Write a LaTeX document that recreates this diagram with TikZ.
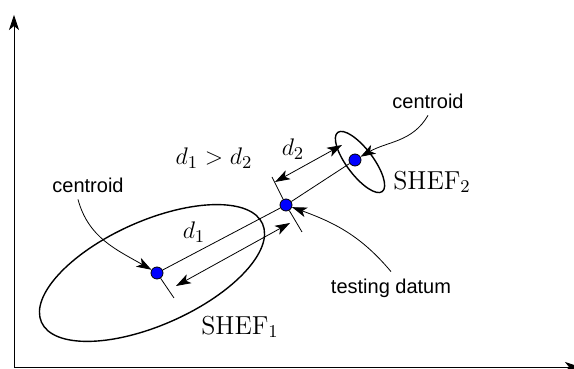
\documentclass[tikz,border=0pt]{standalone}
\usepackage{fontspec}
\newfontfamily\labelfont{Liberation Sans}
\usetikzlibrary{arrows.meta,positioning}

\begin{document}
\begin{tikzpicture}[x=0.5pt,y=0.5pt,
  dot/.style={circle,draw,fill=blue,inner sep=0pt,minimum size=6pt},
  tag/.style={font=\labelfont\fontsize{10}{12}\selectfont},
  mlabel/.style={font=\fontsize{13}{15}\selectfont},
  dim/.style={{Stealth[length=7.5pt,width=5pt,inset=2pt]}-{Stealth[length=7.5pt,width=5pt,inset=2pt]}},
  pointer/.style={-{Stealth[length=7.5pt,width=5pt,inset=2pt]}}]

\useasboundingbox (0,0) rectangle (574,369);

% axes
\coordinate (o) at (14,2);
\coordinate (ytop) at (14,354);
\coordinate (xend) at (580,2);
\draw[pointer] (o) -- (ytop);
\draw[pointer] (o) -- (xend);

% the two clusters
\draw[line width=0.7pt] (152,96) circle [x radius=60.5pt, y radius=26pt, rotate=24];
\draw[line width=0.7pt] (360,207) circle [x radius=18.5pt, y radius=6.6pt, rotate=-53];

\node[dot] (c1) at (157,96) {};
\node[dot] (td) at (286,164) {};
\node[dot] (c2) at (355,209) {};

\draw (c1) -- (td) -- (c2);

% ticks
\coordinate (t1) at (174,71);
\coordinate (t2a) at (272,192);
\coordinate (t2b) at (302,137);
\draw (c1) -- (t1);
\draw (t2a) -- (td) -- (t2b);

% distances
\coordinate (d1a) at (176,83);
\coordinate (d1b) at (290,146);
\coordinate (d2a) at (275,187);
\coordinate (d2b) at (342,224);
\draw[dim] (d1a) -- (d1b);
\draw[dim] (d2a) -- (d2b);

\node[mlabel] (l1) at (194,137) {$d_1$};
\node[mlabel] (l2) at (293,220) {$d_2$};
\node[mlabel] (cmp) at (214,211) {$d_1>d_2$};
\node[mlabel] (s1) at (240,42) {$\mathrm{SHEF}_1$};
\node[mlabel] (s2) at (432,187) {$\mathrm{SHEF}_2$};

% pointers
\node[tag] (lc) at (88,184) {centroid};
\node[tag] (uc) at (428,268) {centroid};
\node[tag] (tl) at (391,81) {testing datum};
\draw[pointer] ([xshift=-5pt]lc.south) to[out=-75,in=150] (c1);
\draw[pointer] (uc.south) to[out=-120,in=30] (c2);
\draw[pointer] (tl.north) to[out=130,in=-20] (td);

\end{tikzpicture}
\end{document}
